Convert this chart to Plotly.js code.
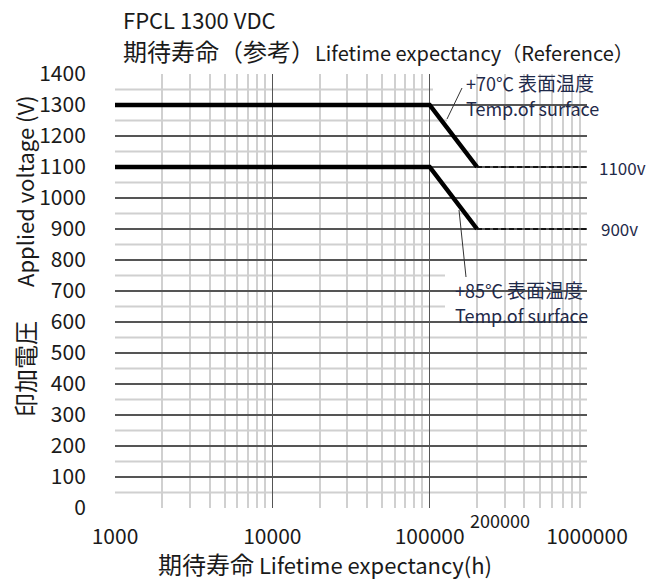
<!DOCTYPE html>
<html>
<head>
<meta charset="utf-8">
<script src="https://cdn.plot.ly/plotly-3.0.1.min.js"></script>
<style>html,body{margin:0;padding:0;background:#fff;}#chart{width:649px;height:580px;}</style>
</head>
<body>
<div id="chart"></div>
<script>
// ---- data ----
var hours = [1000, 100000, 200000];
var volt70 = [1300, 1300, 1100];
var volt85 = [1100, 1100, 900];
var hoursExt = [200000, 1000000];
var volt70Ext = [1100, 1100];
var volt85Ext = [900, 900];
var xTickVals = [1000, 10000, 100000, 1000000];
var xTickText = ['1000', '10000', '100000', '1000000'];
var yStep = 100, yMinorStep = 50, yMax = 1400;

// ---- layout helpers ----
var L = 115, R = 587, T = 74, B = 508;
function px(x){ return (x - L) / (R - L); }
function py(y){ return (B - y) / (B - T); }

var minorX = [];
[1000, 10000, 100000].forEach(function(d){ for (var k = 2; k <= 9; k++) minorX.push(d * k); });

var FONT = '"Noto Sans CJK JP", "Noto Sans", sans-serif';
var TXT = '#1a1a1a';
var NAVY = '#1f2a4a';
var MINOR = '#d0d0d0';

var traces = [
  {x: hours, y: volt70, mode: 'lines', line: {color: '#000', width: 4.5}, hoverinfo: 'skip'},
  {x: hours, y: volt85, mode: 'lines', line: {color: '#000', width: 4.5}, hoverinfo: 'skip'},
  {x: hoursExt, y: volt70Ext, mode: 'lines', line: {color: '#000', width: 1.5, dash: '5px,3px'}, hoverinfo: 'skip'},
  {x: hoursExt, y: volt85Ext, mode: 'lines', line: {color: '#000', width: 1.5, dash: '5px,3px'}, hoverinfo: 'skip'}
];

function ann(text, x, y, opts){
  var a = {text: text, xref: 'paper', yref: 'paper', x: px(x), y: py(y), showarrow: false,
    xanchor: 'left', yanchor: 'middle', font: {family: FONT, size: 18, color: NAVY}};
  for (var k in opts) a[k] = opts[k];
  return a;
}
function sz(s, t){ return '<span style="font-size:' + s + 'px">' + t + '</span>'; }

// minor horizontal grid (every 50 V), stopped where the label boxes sit
var minorEnd = {1350: px(433), 1250: px(447), 750: px(445), 650: px(445)};
var shapes = [];
for (var v = yMinorStep; v < yMax; v += yStep) {
  shapes.push({type: 'line', layer: 'between', xref: 'paper', yref: 'y', x0: 0, x1: (minorEnd[v] !== undefined ? minorEnd[v] : 1), y0: v, y1: v,
    line: {color: MINOR, width: 2}});
}
shapes = shapes.concat([
  {type: 'rect', layer: 'between', xref: 'paper', yref: 'paper', x0: px(447), x1: px(649), y0: py(125), y1: py(77), fillcolor: '#fff', line: {width: 0}},
  {type: 'rect', layer: 'between', xref: 'paper', yref: 'paper', x0: px(463), x1: px(649), y0: py(80), y1: py(68), fillcolor: '#fff', line: {width: 0}},
  {type: 'rect', layer: 'between', xref: 'paper', yref: 'paper', x0: px(445), x1: px(600), y0: py(328), y1: py(275), fillcolor: '#fff', line: {width: 0}},
  {type: 'line', xref: 'paper', yref: 'paper', x0: px(462), y0: py(88), x1: px(447), y1: py(119), line: {color: '#333', width: 1}},
  {type: 'line', xref: 'paper', yref: 'paper', x0: px(459), y0: py(210), x1: px(466), y1: py(277), line: {color: '#333', width: 1}}
]);

var layout = {
  width: 649, height: 580,
  margin: {l: L, r: 649 - R, t: T, b: 580 - B, pad: 0},
  paper_bgcolor: '#fff', plot_bgcolor: 'rgba(0,0,0,0)',
  showlegend: false,
  font: {family: FONT, color: TXT},
  xaxis: {
    type: 'log', range: [3, 6],
    tickmode: 'array', tickvals: xTickVals, ticktext: xTickText,
    showgrid: true, gridcolor: '#555', gridwidth: 1.5,
    showline: false, zeroline: false,
    ticks: 'outside', ticklen: 10, tickcolor: 'rgba(0,0,0,0)',
    tickfont: {family: FONT, size: 21, color: TXT},
    minor: {tickmode: 'array', tickvals: minorX, showgrid: true, gridcolor: MINOR, gridwidth: 2, ticks: ''}
  },
  yaxis: {
    range: [0, yMax],
    tickmode: 'linear', tick0: 0, dtick: yStep,
    showgrid: true, gridcolor: '#555', gridwidth: 1.5,
    showline: false, zeroline: false,
    ticks: 'outside', ticklen: 24, tickcolor: 'rgba(0,0,0,0)',
    tickfont: {family: FONT, size: 21, color: TXT}
  },
  shapes: shapes,
  annotations: [
    ann('FPCL 1300 VDC', 121, 19, {font: {family: FONT, size: 22, color: TXT}}),
    ann(sz(24, '期待寿命（参考）') + 'Lifetime expectancy' + sz(20, '（Reference）'), 121, 51, {font: {family: FONT, size: 20, color: TXT}}),
    ann('+70℃ ' + sz(19, '表面温度'), 464, 82),
    ann('Temp.of surface', 464, 108),
    ann('+85℃ ' + sz(19, '表面温度'), 453, 289),
    ann('Temp.of surface', 453, 315),
    ann('1100v', 597, 168, {font: {family: FONT, size: 17, color: NAVY}}),
    ann('900v', 599, 229, {font: {family: FONT, size: 17, color: NAVY}}),
    ann('200000', 500, 520, {xanchor: 'center', font: {family: FONT, size: 18, color: TXT}}),
    ann(sz(24, '期待寿命') + ' Lifetime expectancy(h)', 325, 563, {xanchor: 'center', font: {family: FONT, size: 22, color: TXT}}),
    ann('Applied voltage (V)', 24, 191, {xanchor: 'center', textangle: -90, font: {family: FONT, size: 22, color: TXT}}),
    ann('印加電圧', 24, 369, {xanchor: 'center', textangle: -90, font: {family: FONT, size: 24, color: TXT}})
  ]
};

Plotly.newPlot('chart', traces, layout, {staticPlot: true, displayModeBar: false});
</script>
</body>
</html>
